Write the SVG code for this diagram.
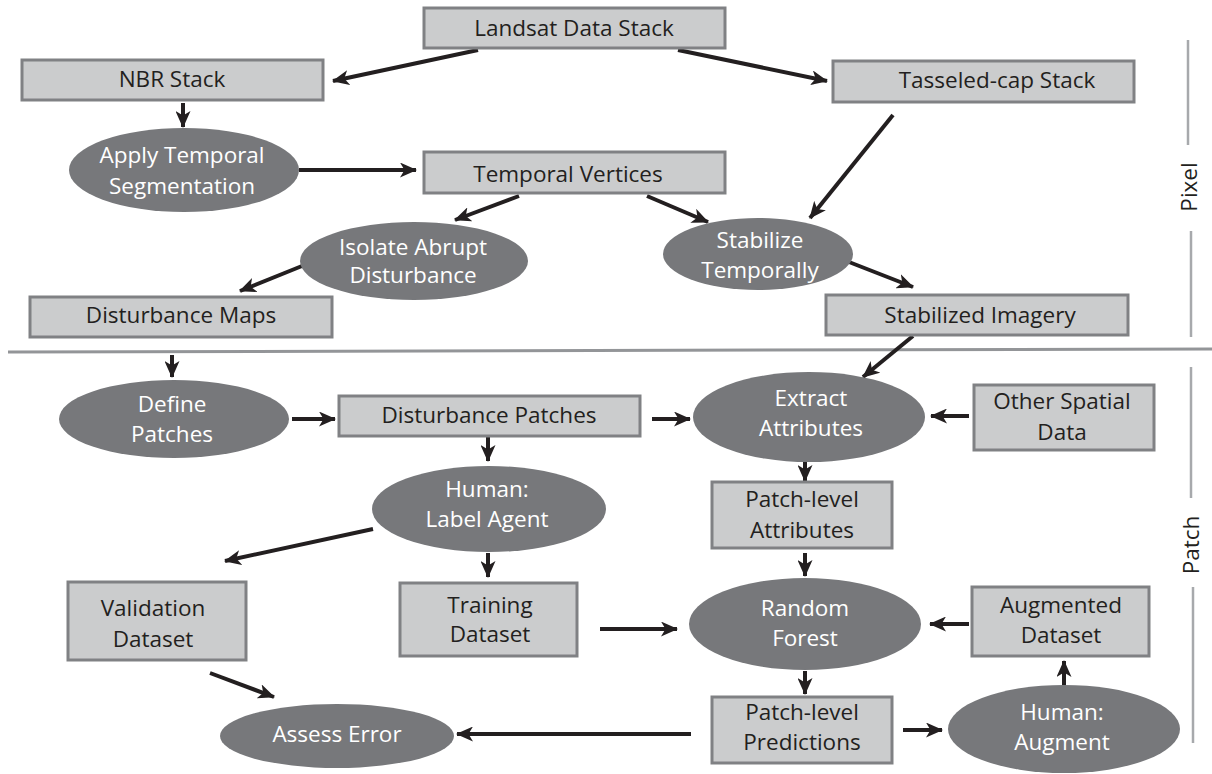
<svg xmlns="http://www.w3.org/2000/svg" width="1212" height="774" viewBox="0 0 1212 774">
<style>
.box{fill:#cbcccd;stroke:#808184;stroke-width:3}
.ell{fill:#77787b}
.bt{font-family:"Open Sans","Liberation Sans",sans-serif;font-size:22.5px;fill:#231f20;text-anchor:middle}
.et{font-family:"Open Sans","Liberation Sans",sans-serif;font-size:22.5px;fill:#ffffff;text-anchor:middle}
.arr{stroke:#231f20;stroke-width:4;fill:none;marker-end:url(#ah)}
.sep{stroke:#939598;stroke-width:3;fill:none}
.brk{stroke:#a7a9ac;stroke-width:2.5;fill:none}
</style>
<defs>
<marker id="ah" markerUnits="userSpaceOnUse" markerWidth="17" markerHeight="15" refX="16" refY="7.5" orient="auto" viewBox="0 0 17 15">
<path d="M0,0 L17,7.5 L0,15 L4.5,7.5 z" fill="#231f20"/>
</marker>
</defs>
<rect width="1212" height="774" fill="#ffffff"/>
<g id="separators">
<line class="sep" x1="8" y1="352" x2="1212" y2="349"/>
<line class="brk" x1="1188" y1="40" x2="1188" y2="145"/>
<line class="brk" x1="1191" y1="231" x2="1191" y2="337"/>
<line class="brk" x1="1191" y1="367" x2="1191" y2="498"/>
<line class="brk" x1="1193" y1="587" x2="1193" y2="743"/>
<text class="bt" transform="translate(1197,187) rotate(-90)">Pixel</text>
<text class="bt" transform="translate(1199,545) rotate(-90)">Patch</text>
</g>
<g id="connectors">
<line class="arr" x1="478" y1="50" x2="333" y2="81"/>
<line class="arr" x1="678" y1="50" x2="827" y2="81"/>
<line class="arr" x1="183" y1="103" x2="183" y2="127"/>
<line class="arr" x1="299" y1="170" x2="416" y2="170"/>
<line class="arr" x1="893" y1="115" x2="810" y2="218"/>
<line class="arr" x1="519" y1="196" x2="455" y2="220"/>
<line class="arr" x1="647" y1="196" x2="708" y2="222"/>
<line class="arr" x1="302" y1="266" x2="240" y2="291"/>
<line class="arr" x1="849" y1="262" x2="913" y2="287"/>
<line class="arr" x1="172" y1="355" x2="172" y2="377"/>
<line class="arr" x1="292" y1="419" x2="335" y2="419"/>
<line class="arr" x1="652" y1="419" x2="690" y2="419"/>
<line class="arr" x1="913" y1="336" x2="863" y2="377"/>
<line class="arr" x1="969" y1="416" x2="931" y2="416"/>
<line class="arr" x1="805" y1="462" x2="805" y2="481"/>
<line class="arr" x1="488" y1="437" x2="488" y2="461"/>
<line class="arr" x1="488" y1="553" x2="488" y2="577"/>
<line class="arr" x1="373" y1="529" x2="225" y2="561"/>
<line class="arr" x1="600" y1="629" x2="677" y2="629"/>
<line class="arr" x1="805" y1="553" x2="805" y2="576"/>
<line class="arr" x1="969" y1="624" x2="930" y2="624"/>
<line class="arr" x1="805" y1="671" x2="805" y2="694"/>
<line class="arr" x1="691" y1="734" x2="457" y2="734"/>
<line class="arr" x1="210" y1="673" x2="274" y2="697"/>
<line class="arr" x1="903" y1="730" x2="942" y2="730"/>
<line class="arr" x1="1064" y1="685" x2="1064" y2="661"/>
</g>
<g id="landsat"><rect class="box" x="424" y="8" width="301" height="40"/><text class="bt" x="574" y="36">Landsat Data Stack</text></g>
<g id="nbr"><rect class="box" x="22" y="60" width="301" height="40"/><text class="bt" x="172" y="87">NBR Stack</text></g>
<g id="tasseled"><rect class="box" x="833" y="61" width="301" height="41"/><text class="bt" x="997" y="88">Tasseled-cap Stack</text></g>
<g id="segmentation"><ellipse class="ell" cx="184" cy="170" rx="115" ry="42"/><text class="et" x="182" y="163">Apply Temporal</text><text class="et" x="182" y="194">Segmentation</text></g>
<g id="vertices"><rect class="box" x="424" y="152" width="301" height="41"/><text class="bt" x="568" y="182">Temporal Vertices</text></g>
<g id="isolate"><ellipse class="ell" cx="414" cy="261" rx="114" ry="39"/><text class="et" x="413" y="255">Isolate Abrupt</text><text class="et" x="413" y="283">Disturbance</text></g>
<g id="stabilize"><ellipse class="ell" cx="758" cy="254" rx="95" ry="36"/><text class="et" x="760" y="248">Stabilize</text><text class="et" x="760" y="278">Temporally</text></g>
<g id="distmaps"><rect class="box" x="30" y="297" width="302" height="40"/><text class="bt" x="181" y="323">Disturbance Maps</text></g>
<g id="stabimg"><rect class="box" x="826" y="295" width="302" height="40"/><text class="bt" x="980" y="323">Stabilized Imagery</text></g>
<g id="define"><ellipse class="ell" cx="174" cy="419" rx="115" ry="39"/><text class="et" x="172" y="412">Define</text><text class="et" x="172" y="442">Patches</text></g>
<g id="distpatches"><rect class="box" x="339" y="396" width="301" height="40"/><text class="bt" x="489" y="423">Disturbance Patches</text></g>
<g id="extract"><ellipse class="ell" cx="809" cy="417" rx="116" ry="45"/><text class="et" x="811" y="406">Extract</text><text class="et" x="811" y="436">Attributes</text></g>
<g id="otherspatial"><rect class="box" x="974" y="385" width="180" height="65"/><text class="bt" x="1062" y="409">Other Spatial</text><text class="bt" x="1062" y="440">Data</text></g>
<g id="patchattr"><rect class="box" x="712" y="482" width="180" height="66"/><text class="bt" x="802" y="507">Patch-level</text><text class="bt" x="802" y="538">Attributes</text></g>
<g id="labelagent"><ellipse class="ell" cx="489" cy="509" rx="117" ry="43"/><text class="et" x="487" y="497">Human:</text><text class="et" x="487" y="527">Label Agent</text></g>
<g id="validation"><rect class="box" x="68" y="582" width="178" height="78"/><text class="bt" x="153" y="616">Validation</text><text class="bt" x="153" y="647">Dataset</text></g>
<g id="training"><rect class="box" x="400" y="583" width="177" height="73"/><text class="bt" x="490" y="613">Training</text><text class="bt" x="490" y="642">Dataset</text></g>
<g id="randomforest"><ellipse class="ell" cx="805" cy="624" rx="116" ry="46"/><text class="et" x="805" y="616">Random</text><text class="et" x="805" y="646">Forest</text></g>
<g id="augmented"><rect class="box" x="972" y="587" width="177" height="69"/><text class="bt" x="1061" y="613">Augmented</text><text class="bt" x="1061" y="643">Dataset</text></g>
<g id="predictions"><rect class="box" x="712" y="697" width="180" height="66"/><text class="bt" x="802" y="720">Patch-level</text><text class="bt" x="802" y="750">Predictions</text></g>
<g id="assess"><ellipse class="ell" cx="337" cy="736" rx="117" ry="32"/><text class="et" x="337" y="742">Assess Error</text></g>
<g id="augment"><ellipse class="ell" cx="1064" cy="729" rx="116" ry="44"/><text class="et" x="1062" y="720">Human:</text><text class="et" x="1062" y="750">Augment</text></g>
</svg>
